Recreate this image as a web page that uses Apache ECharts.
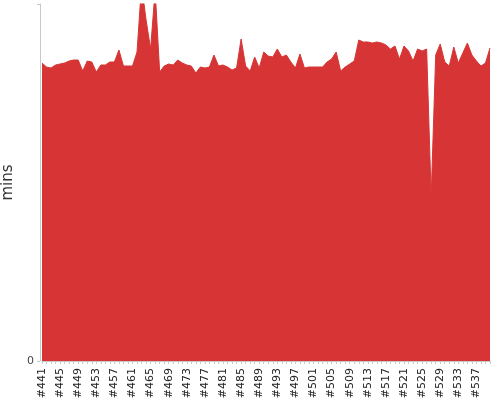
<!DOCTYPE html>
<html>
<head>
<meta charset="utf-8">
<style>
  html, body { margin: 0; padding: 0; background: #fff; }
  #main { width: 500px; height: 400px; }
</style>
<script src="https://cdn.jsdelivr.net/npm/echarts@6/dist/echarts.min.js"></script>
</head>
<body>
<div id="main"></div>
<script>
// build numbers #441 .. #540
var firstBuild = 441;
var buildCount = 100;
var builds = [];
for (var b = 0; b < buildCount; b++) {
  builds.push('#' + (firstBuild + b));
}

// build duration (mins)
var durations = [
  29.8, 29.4, 29.3, 29.6, 29.7, 29.8, 30.0, 30.1, 30.1, 29.0,
  30.0, 29.9, 28.9, 29.6, 29.6, 29.9, 29.9, 31.1, 29.5, 29.5,
  29.5, 30.9, 37.6, 34.1, 31.2, 37.1, 28.9, 29.5, 29.7, 29.6,
  30.1, 29.8, 29.6, 29.5, 28.8, 29.4, 29.3, 29.4, 30.6, 29.5,
  29.6, 29.4, 29.1, 29.3, 32.2, 29.5, 29.0, 30.4, 29.3, 30.9,
  30.5, 30.4, 31.2, 30.4, 30.6, 29.9, 29.3, 30.7, 29.3, 29.4,
  29.4, 29.4, 29.4, 29.9, 30.2, 30.9, 29.0, 29.4, 29.7, 30.0,
  32.1, 31.9, 31.9, 31.8, 31.9, 31.8, 31.6, 31.2, 31.5, 30.2,
  31.5, 31.0, 30.0, 31.2, 31.0, 31.2, 16.4, 30.6, 31.7, 29.9,
  29.5, 31.4, 29.8, 30.8, 31.8, 30.6, 30.0, 29.5, 29.8, 31.3
];

var yMax = 35.7;

var myChart = echarts.init(document.getElementById('main'));

var option = {
  animation: false,
  backgroundColor: '#fff',
  textStyle: { fontFamily: 'DejaVu Sans' },
  grid: {
    left: 42,
    right: 10,
    top: 4,
    bottom: 39,
    containLabel: false,
    outerBoundsMode: 'none'
  },
  xAxis: {
    type: 'category',
    data: builds,
    boundaryGap: false,
    axisLine: { lineStyle: { color: '#c8c8c8', width: 1 } },
    axisTick: {
      show: true,
      interval: 0,
      length: 3,
      lineStyle: { color: '#c8c8c8' }
    },
    axisLabel: {
      interval: 3,
      rotate: 90,
      fontSize: 11,
      color: '#222',
      margin: 7
    },
    splitLine: { show: false }
  },
  yAxis: {
    type: 'value',
    min: 0,
    max: yMax,
    interval: yMax,
    offset: 2,
    name: 'mins',
    nameLocation: 'middle',
    nameGap: 19,
    nameTextStyle: { fontSize: 15, color: '#333' },
    axisLine: { show: true, lineStyle: { color: '#c8c8c8', width: 1 } },
    axisTick: { show: true, length: 3, lineStyle: { color: '#c8c8c8' } },
    axisLabel: {
      fontSize: 11,
      color: '#444',
      margin: 6,
      formatter: function (v) { return v === 0 ? '0' : ''; }
    },
    splitLine: { show: false }
  },
  series: [
    {
      type: 'line',
      data: durations,
      showSymbol: false,
      clip: true,
      lineStyle: { color: '#d73535', width: 1 },
      areaStyle: { color: '#d73535', opacity: 1 },
      itemStyle: { color: '#d73535' }
    }
  ]
};

myChart.setOption(option);
</script>
</body>
</html>
